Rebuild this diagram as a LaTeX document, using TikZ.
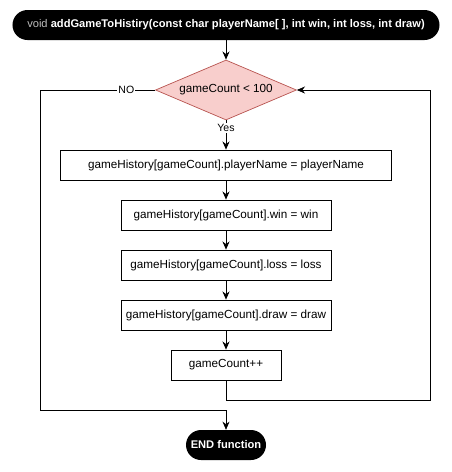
\documentclass[tikz,border=0pt]{standalone}
\usepackage{fontspec}
\setmainfont{Liberation Sans}
\usetikzlibrary{shapes.geometric, arrows.meta, positioning, calc}
\definecolor{decfill}{RGB}{248, 206, 204}
\definecolor{decline}{RGB}{184, 84, 80}
\definecolor{voidgray}{RGB}{190, 190, 190}

\begin{document}
\begin{tikzpicture}[x=0.03cm, y=-0.03cm,
    terminal/.style={fill=black, text=white, rounded corners=0.45cm,
                     minimum width=#1, minimum height=0.9cm, inner sep=0pt,
                     font=\bfseries\fontsize{9.5}{11}\selectfont},
    decision/.style={diamond, aspect=2.35, draw=decline, fill=decfill, line width=0.6pt,
                     minimum width=4.23cm, minimum height=1.8cm, inner sep=0pt,
                     font=\fontsize{10}{12}\selectfont},
    process/.style={draw, line width=0.6pt, minimum width=#1, minimum height=0.9cm,
                    inner sep=0pt, font=\fontsize{10}{12}\selectfont},
    flow/.style={-{Stealth[length=7pt, width=6pt]}, line width=0.6pt},
    lbl/.style={fill=white, inner sep=1pt, font=\fontsize{9}{10}\selectfont}
]
    \useasboundingbox (0,0) rectangle (452,472);

    \node[terminal=12.81cm] (start) at (226,25) {
        \textcolor{voidgray}{\mdseries void} addGameToHistiry(const char playerName[ ], int win, int loss, int draw)
    };

    \node[decision] (cond) at (226,90) {gameCount < 100};

    \node[process=9.93cm] (setname) at (226,165) {gameHistory[gameCount].playerName = playerName};
    \node[process=6.3cm] (setwin) at (226,215) {gameHistory[gameCount].win = win};
    \node[process=6.3cm] (setloss) at (226,265) {gameHistory[gameCount].loss = loss};
    \node[process=6.3cm] (setdraw) at (226,315) {gameHistory[gameCount].draw = draw};
    \node[process=3.3cm] (incr) at (226,365) {gameCount++};

    \node[terminal=2.4cm] (finish) at (226,445) {END function};

    \coordinate (rloop) at (430,400);
    \coordinate (lloop) at (40,410);

    \draw[flow] (start) -- (cond);
    \draw[flow] (cond) -- node[lbl, pos=0.25] {Yes} (setname);
    \draw[flow] (setname) -- (setwin);
    \draw[flow] (setwin) -- (setloss);
    \draw[flow] (setloss) -- (setdraw);
    \draw[flow] (setdraw) -- (incr);
    \draw[flow] (incr.south) |- (rloop) |- (cond.east);
    \draw[line width=0.6pt] (cond.west) -| node[lbl, pos=0.125] {NO} (lloop);
    \draw[flow] (lloop) -| (finish.north);
\end{tikzpicture}
\end{document}
